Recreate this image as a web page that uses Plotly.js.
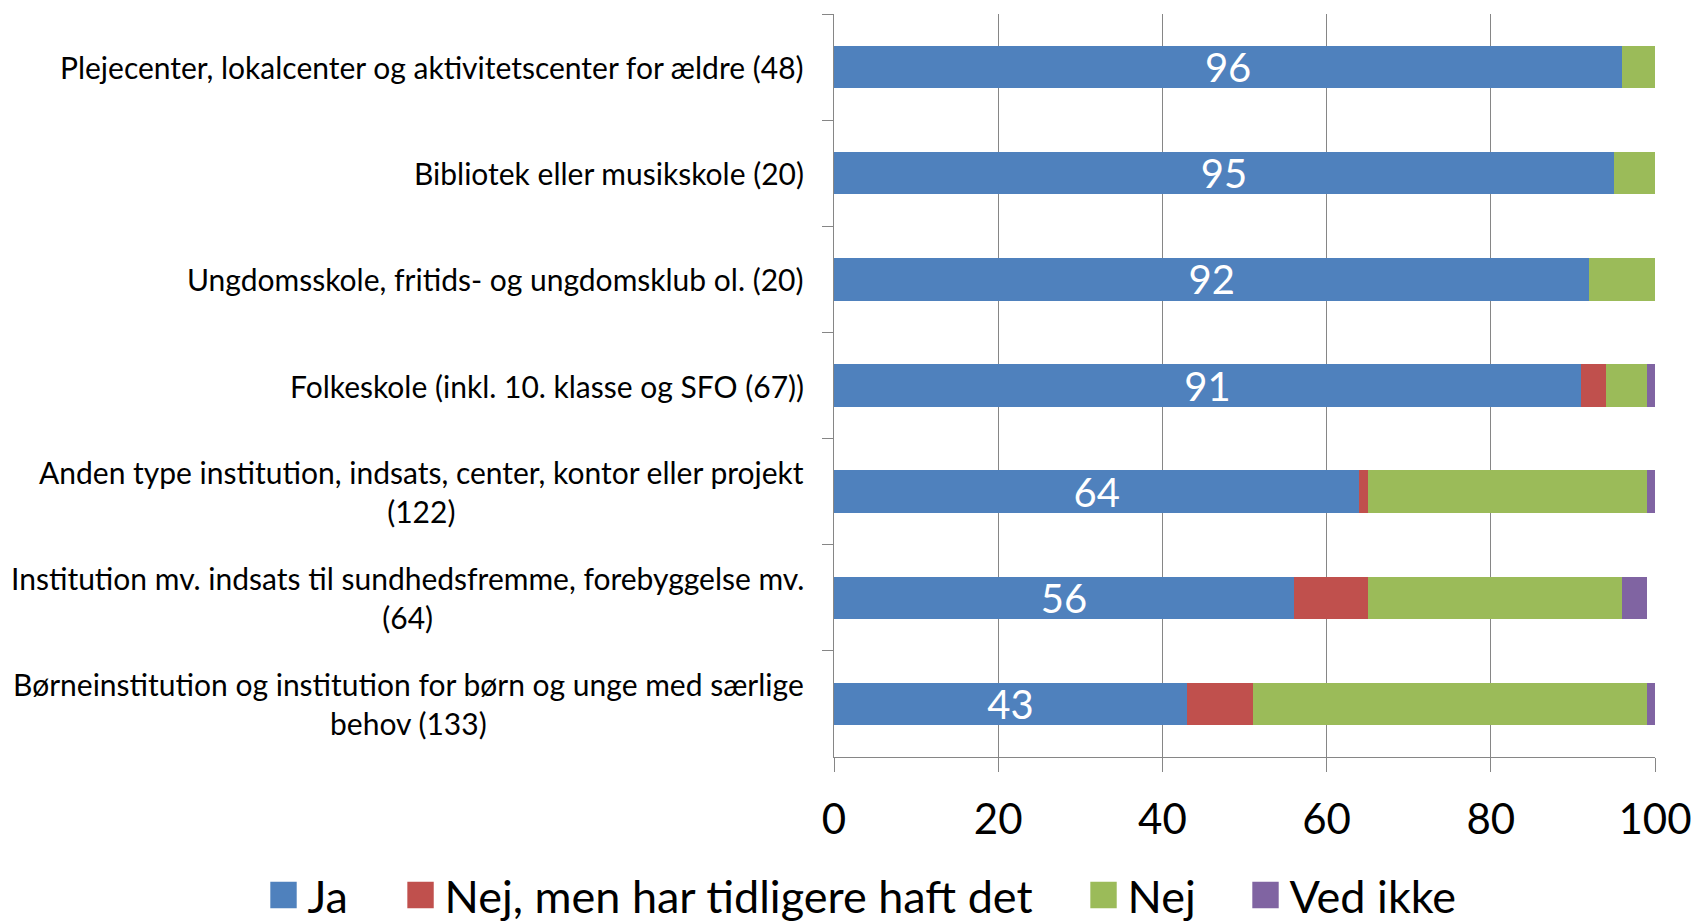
<!DOCTYPE html>
<html>
<head>
<meta charset="utf-8">
<script src="https://cdn.plot.ly/plotly-3.0.1.min.js"></script>
<style>
html,body{margin:0;padding:0;background:#fff;}
#chart{width:1696px;height:921px;}
</style>
</head>
<body>
<div id="chart"></div>
<script>
// Categories, top to bottom
const categories = [
  "Plejecenter, lokalcenter og aktivitetscenter for ældre (48)",
  "Bibliotek eller musikskole (20)",
  "Ungdomsskole, fritids- og ungdomsklub ol. (20)",
  "Folkeskole (inkl. 10. klasse og SFO (67))",
  "Anden type institution, indsats, center, kontor eller projekt<br>(122)",
  "Institution mv. indsats til sundhedsfremme, forebyggelse mv.<br>(64)",
  "Børneinstitution og institution for børn og unge med særlige<br>behov (133)"
];
const seriesNames = ["Ja", "Nej, men har tidligere haft det", "Nej", "Ved ikke"];
const ja       = [96, 95, 92, 91, 64, 56, 43];
const nejFor   = [0, 0, 0, 3, 1, 9, 8];
const nej      = [4, 5, 8, 5, 34, 31, 48];
const vedIkke  = [0, 0, 0, 1, 1, 3, 1];
const colors = ["#4F81BD", "#C0504D", "#9BBB59", "#8064A2"];
const xTicks = [0, 20, 40, 60, 80, 100];

const FONT = "Lato, 'Open Sans', sans-serif";
const values = [ja, nejFor, nej, vedIkke];
const legendIds = ["legend", "legend2", "legend3", "legend4"];
const legendX = [-0.690, -0.5231, 0.3088, 0.5061];

const traces = values.map((v, i) => ({
  type: "bar",
  orientation: "h",
  name: seriesNames[i],
  legend: legendIds[i],
  y: categories,
  x: v,
  marker: {color: colors[i], line: {width: 0}},
  texttemplate: i === 0 ? "%{x}" : "",
  textposition: i === 0 ? "inside" : "none",
  insidetextanchor: "middle",
  textangle: 0,
  constraintext: "none",
  textfont: {family: FONT, size: 40, color: "#ffffff"},
  hoverinfo: "none"
}));

const annotations = categories.map(c => ({
  xref: "paper", yref: "y",
  x: 0, y: c,
  xanchor: "right", yanchor: "middle",
  xshift: -28,
  text: c,
  align: "center",
  showarrow: false,
  font: {family: FONT, size: 30, color: "#000"}
}));

const layout = {
  width: 1696, height: 921,
  margin: {l: 834, r: 41, t: 14, b: 164, autoexpand: false},
  paper_bgcolor: "#fff", plot_bgcolor: "#fff",
  barmode: "stack",
  bargap: 0.6,
  font: {family: FONT, color: "#000"},
  showlegend: true,
  xaxis: {
    range: [0, 100],
    tickvals: xTicks,
    ticktext: xTicks.map(String),
    showgrid: true, gridcolor: "#868686", gridwidth: 1,
    showline: true, linecolor: "#868686", linewidth: 1,
    ticks: "outside", ticklen: 14, tickcolor: "#868686",
    ticklabelstandoff: 12,
    tickfont: {family: FONT, size: 42, color: "#000"},
    zeroline: false, fixedrange: true
  },
  yaxis: {
    type: "category",
    autorange: "reversed",
    showticklabels: false,
    showline: true, linecolor: "#868686", linewidth: 1,
    ticks: "outside", ticklen: 11, tickcolor: "#868686",
    tickson: "boundaries",
    showgrid: false, zeroline: false, fixedrange: true
  },
  annotations: annotations
};
legendIds.forEach((id, i) => {
  layout[id] = {
    orientation: "h",
    xref: "paper", yref: "paper",
    x: legendX[i], xanchor: "left",
    y: -0.186, yanchor: "middle",
    bgcolor: "rgba(0,0,0,0)",
    font: {family: FONT, size: 45, color: "#000"}
  };
});

Plotly.newPlot("chart", traces, layout, {displayModeBar: false, staticPlot: true}).then(gd => {
  // enlarge legend swatches to match the reference's square markers
  gd.querySelectorAll(".legendpoints path").forEach(p => {
    const orig = p.getAttribute("transform") || "";
    p.setAttribute("transform", "translate(-4,0) " + orig + " scale(2.2)");
  });
});
</script>
</body>
</html>
